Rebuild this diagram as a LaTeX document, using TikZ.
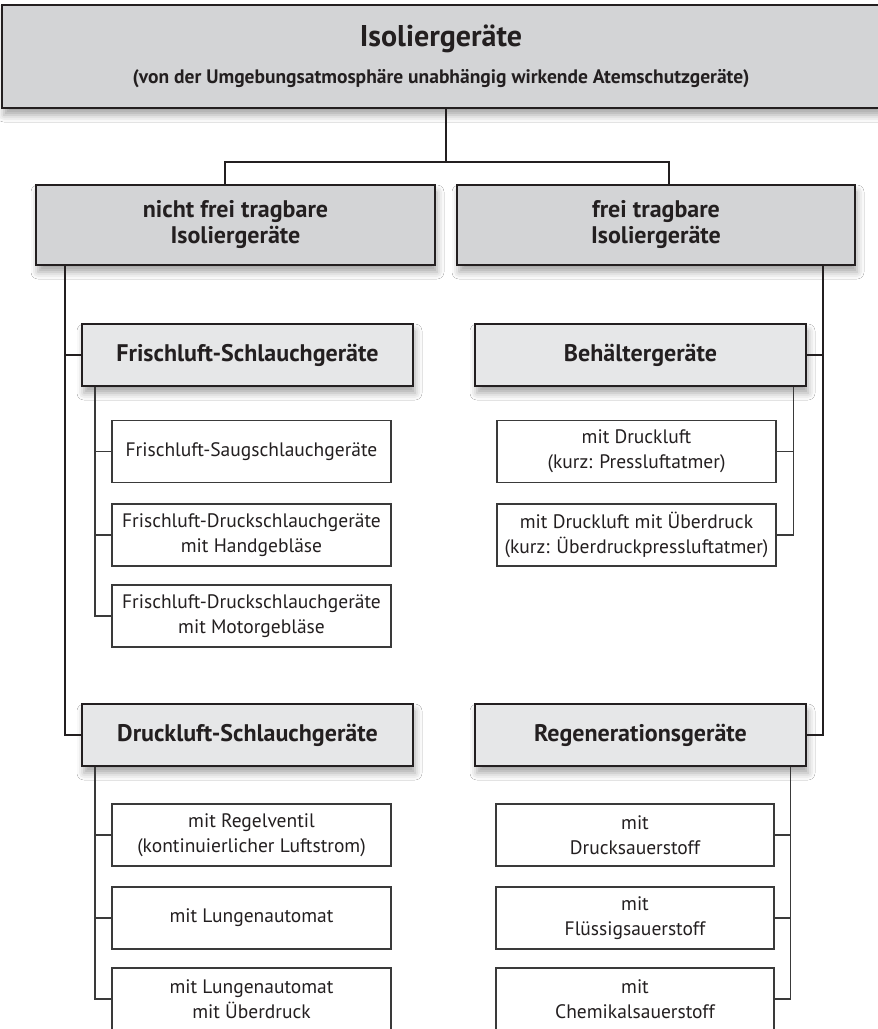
\documentclass[tikz,border=0pt]{standalone}
\usepackage{fontspec}
\setmainfont{PT Sans}
\usetikzlibrary{shadows.blur}
\definecolor{boxgray}{HTML}{D3D4D6}
\definecolor{boxlight}{HTML}{E6E7E8}
\definecolor{ink}{HTML}{231F20}
\definecolor{leafline}{HTML}{3A3A3A}
\tikzset{
  shadowed/.style={blur shadow={shadow xshift=2pt, shadow yshift=-7pt, shadow blur radius=7pt, shadow opacity=35}},
  topbox/.style={draw=ink, line width=2.4pt, fill=boxgray, shadowed, minimum width=878pt, minimum height=103pt, align=center, inner sep=0pt, text=ink},
  catbox/.style={draw=ink, line width=2.4pt, fill=boxgray, shadowed, minimum width=399pt, minimum height=80pt, align=center, inner sep=0pt, text=ink, font=\fontsize{24}{26}\selectfont\bfseries},
  groupbox/.style={draw=ink, line width=2.4pt, fill=boxlight, shadowed, minimum width=331pt, minimum height=62pt, align=center, inner sep=0pt, text=ink, font=\fontsize{24}{26}\selectfont\bfseries},
  leafbox/.style={draw=leafline, line width=1.3pt, fill=white, minimum width=279pt, minimum height=62pt, align=center, inner sep=0pt, font=\fontsize{19.5}{25}\selectfont, text=ink},
  mainline/.style={draw=ink, line width=2.4pt},
  subline/.style={draw=leafline, line width=1.4pt},
}
\begin{document}
\begin{tikzpicture}[x=1pt, y=-1pt]
\useasboundingbox (0,0) rectangle (878,1029);
\fill[white] (0,0) rectangle (878,1029);
% top
\node[topbox] (top) at (441,56.5) {\raisebox{-3pt}{\shortstack{{\fontsize{30}{34}\selectfont\bfseries Isoliergeräte}\\[13pt]{\fontsize{19.5}{22}\selectfont\bfseries (von der Umgebungsatmosphäre unabhängig wirkende Atemschutzgeräte)}}}};
% level 2
\node[catbox] (nf) at (235.5,225) {nicht frei tragbare\\Isoliergeräte};
\node[catbox, minimum width=398pt] (fr) at (656,225) {frei tragbare\\Isoliergeräte};
% level 3
\node[groupbox] (fs) at (247.5,355) {Frischluft-Schlauchgeräte};
\node[groupbox] (bg) at (640.5,355) {Behältergeräte};
\node[groupbox] (ds) at (247.5,735) {Druckluft-Schlauchgeräte};
\node[groupbox] (rg) at (640.5,735) {Regenerationsgeräte};
% leaves left upper
\node[leafbox] (fs1) at (251.5,451.5) {Frischluft-Saugschlauchgeräte};
\node[leafbox] (fs2) at (251.5,535) {Frischluft-Druckschlauchgeräte\\mit Handgebläse};
\node[leafbox] (fs3) at (251.5,616) {Frischluft-Druckschlauchgeräte\\mit Motorgebläse};
% leaves right upper
\node[leafbox] (bg1) at (636.5,451.5) {mit Druckluft\\(kurz: Pressluftatmer)};
\node[leafbox] (bg2) at (636.5,535) {mit Druckluft mit Überdruck\\(kurz: Überdruckpressluftatmer)};
% leaves left lower
\node[leafbox] (ds1) at (251.5,835) {mit Regelventil\\(kontinuierlicher Luftstrom)};
\node[leafbox] (ds2) at (251.5,918) {mit Lungenautomat};
\node[leafbox] (ds3) at (251.5,999) {mit Lungenautomat\\mit Überdruck};
% leaves right lower
\node[leafbox, minimum width=278pt] (rg1) at (635,835) {mit\\Drucksauerstoff};
\node[leafbox, minimum width=278pt] (rg2) at (635,918) {mit\\Flüssigsauerstoff};
\node[leafbox, minimum width=278pt] (rg3) at (635,999) {mit\\Chemikalsauerstoff};
% connectors
\coordinate (j) at (446,162);
\draw[mainline] (top.south -| j) -- (j);
\draw[mainline] ([xshift=-10.5pt]nf.north) |- (j) -| ([xshift=13pt]fr.north);
\draw[mainline] ([xshift=30pt]nf.south west) |- (fs.west);
\draw[mainline] ([xshift=30pt]nf.south west) |- (ds.west);
\draw[mainline] ([xshift=-33pt]fr.south east) |- (bg.east);
\draw[mainline] ([xshift=-33pt]fr.south east) |- (rg.east);
\foreach \l in {fs1,fs2,fs3} \draw[subline] ([xshift=14pt]fs.south west) |- (\l.west);
\foreach \l in {bg1,bg2} \draw[subline] ([xshift=-14pt]bg.south east) |- (\l.east);
\foreach \l in {ds1,ds2,ds3} \draw[subline] ([xshift=14pt]ds.south west) |- (\l.west);
\foreach \l in {rg1,rg2,rg3} \draw[subline] ([xshift=-17pt]rg.south east) |- (\l.east);
\end{tikzpicture}
\end{document}
